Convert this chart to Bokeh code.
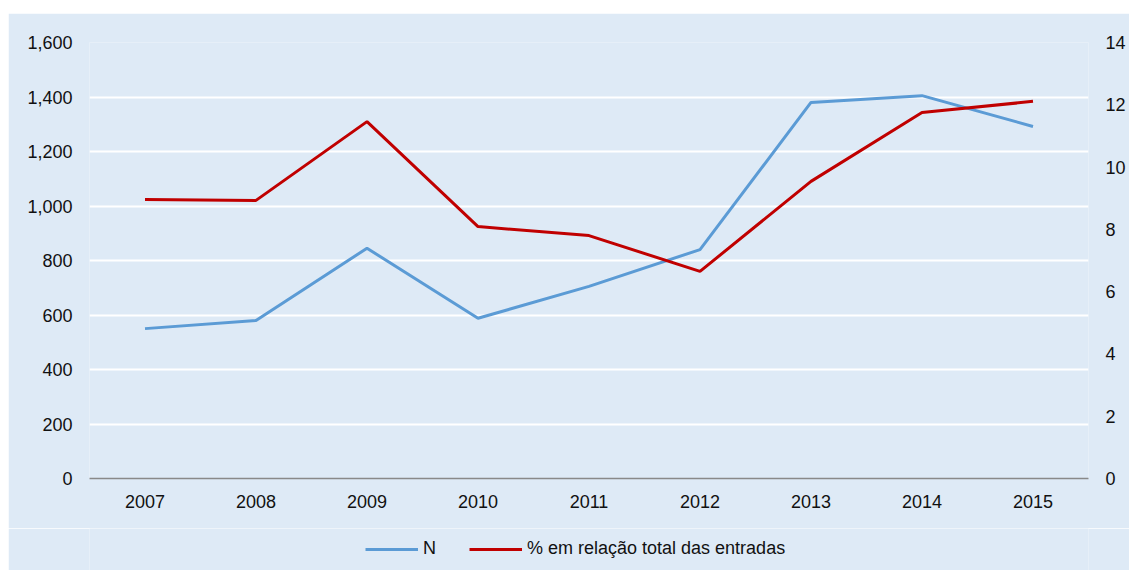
from bokeh.plotting import figure
from bokeh.models import (Range1d, LinearAxis, FixedTicker, NumeralTickFormatter,
                          Legend, LegendItem, FactorRange)
from bokeh.layouts import column
from bokeh.embed import file_html
from bokeh.resources import INLINE

years = ["2007", "2008", "2009", "2010", "2011", "2012", "2013", "2014", "2015"]
n_values = [550, 580, 845, 588, 705, 840, 1380, 1405, 1292]
pct_values = [8.96, 8.93, 11.46, 8.09, 7.80, 6.65, 9.54, 11.75, 12.11]
left_ticks = [0, 200, 400, 600, 800, 1000, 1200, 1400, 1600]
right_ticks = [0, 2, 4, 6, 8, 10, 12, 14]
label_n = "N"
label_pct = "% em relação total das entradas"

BG = "#DEEAF6"
BLUE = "#5B9BD5"
RED = "#C00000"
FONT = "Liberation Sans"
TXT = "#111111"
FS = "18px"

p = figure(x_range=FactorRange(factors=years, range_padding=0),
           y_range=Range1d(0, 1600),
           frame_width=999, frame_height=436, output_backend="svg", toolbar_location=None,
           min_border_left=81, min_border_right=41, min_border_top=29, min_border_bottom=50)
p.background_fill_color = BG
p.border_fill_color = BG
p.outline_line_color = None

p.extra_y_ranges = {"pct": Range1d(0, 14)}

r1 = p.line(years, n_values, line_color=BLUE, line_width=3)
r2 = p.line(years, pct_values, line_color=RED, line_width=3, y_range_name="pct")

# grid
p.xgrid.grid_line_color = None
p.ygrid.grid_line_color = "white"
p.ygrid.grid_line_width = 2
p.ygrid.ticker = FixedTicker(ticks=left_ticks)

# left axis
ya = p.yaxis[0]
ya.ticker = FixedTicker(ticks=left_ticks)
ya.formatter = NumeralTickFormatter(format="0,0")
ya.axis_line_color = None
ya.major_tick_line_color = None
ya.minor_tick_line_color = None
ya.major_label_standoff = 11
ya.major_label_text_font = FONT
ya.major_label_text_font_size = FS
ya.major_label_text_color = TXT

# right axis
ra = LinearAxis(y_range_name="pct", ticker=FixedTicker(ticks=right_ticks))
ra.axis_line_color = None
ra.major_tick_line_color = None
ra.minor_tick_line_color = None
ra.major_label_standoff = 11
ra.major_label_text_font = FONT
ra.major_label_text_font_size = FS
ra.major_label_text_color = TXT
p.add_layout(ra, "right")

# x axis
xa = p.xaxis[0]
xa.axis_line_color = "#898989"
xa.axis_line_width = 1.5
xa.major_tick_line_color = None
xa.minor_tick_line_color = None
xa.major_label_standoff = 10
xa.major_label_text_font = FONT
xa.major_label_text_font_size = FS
xa.major_label_text_color = TXT

# legend strip (separate figure so the legend sits below the axis labels);
# its lines use the same series but lie outside its visible y range
lg = figure(x_range=FactorRange(factors=years, range_padding=0),
            y_range=Range1d(-20, -10),
            width=1121, height=42, output_backend="svg", toolbar_location=None,
            x_axis_location=None, y_axis_location=None,
            min_border_left=0, min_border_right=0, min_border_top=0, min_border_bottom=0)
lg.background_fill_color = BG
lg.border_fill_color = BG
lg.outline_line_color = None
lg.grid.visible = False
d1 = lg.line(years, n_values, line_color=BLUE, line_width=3)
d2 = lg.line(years, pct_values, line_color=RED, line_width=3)

legend = Legend(items=[LegendItem(label=label_n, renderers=[d1]),
                       LegendItem(label=label_pct, renderers=[d2])],
                orientation="horizontal", location=(276, 11),
                background_fill_alpha=0, border_line_color=None,
                glyph_width=53, glyph_height=18, label_standoff=5, spacing=33,
                label_width=0, padding=0, margin=0,
                label_text_font=FONT, label_text_font_size=FS, label_text_color=TXT)
lg.add_layout(legend, "center")

layout = column(p, lg, spacing=0)
layout.margin = (13, 0, 0, 8)
open("out.html", "w").write(file_html(layout, INLINE))
